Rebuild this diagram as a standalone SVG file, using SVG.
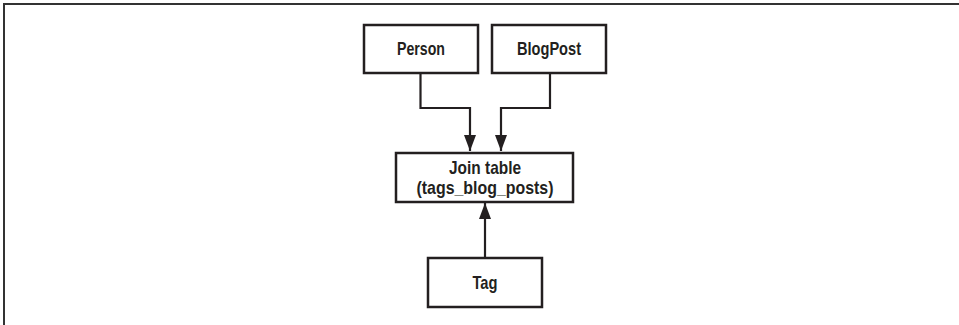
<svg xmlns="http://www.w3.org/2000/svg" width="959" height="325" viewBox="0 0 959 325">
<defs>
<style>
.box{fill:#fff;stroke:#231f20;stroke-width:2.5}
.lbl{font-family:"Liberation Sans",Arial,sans-serif;font-weight:bold;font-size:19px;fill:#231f20;text-anchor:middle}
.con{fill:none;stroke:#231f20;stroke-width:2.2}
.frame{fill:none;stroke:#333;stroke-width:2}
</style>
<marker id="ah" markerWidth="16" markerHeight="12" refX="16" refY="6" orient="auto" markerUnits="userSpaceOnUse" viewBox="0 0 16 12">
<path d="M0,0 L16,6 L0,12 Z" fill="#231f20"/>
</marker>
</defs>
<rect width="959" height="325" fill="#fff"/>
<path class="frame" d="M4,325 V4 H959"/>
<g id="connectors">
<path class="con" d="M420.5,73 V108 H470 V151" marker-end="url(#ah)"/>
<path class="con" d="M550,73 V108 H501 V151" marker-end="url(#ah)"/>
<path class="con" d="M485,258 V203" marker-end="url(#ah)"/>
</g>
<g id="person">
<rect class="box" x="364" y="25" width="114" height="48"/>
<text class="lbl" x="421" y="55" textLength="48" lengthAdjust="spacingAndGlyphs">Person</text>
</g>
<g id="blogpost">
<rect class="box" x="492" y="25" width="114" height="48"/>
<text class="lbl" x="549" y="55" textLength="64" lengthAdjust="spacingAndGlyphs">BlogPost</text>
</g>
<g id="jointable">
<rect class="box" x="396" y="153" width="177" height="49"/>
<text class="lbl" x="485" y="174" textLength="72" lengthAdjust="spacingAndGlyphs">Join table</text>
<text class="lbl" x="485" y="194" textLength="137" lengthAdjust="spacingAndGlyphs">(tags_blog_posts)</text>
</g>
<g id="tag">
<rect class="box" x="428" y="258" width="114" height="49"/>
<text class="lbl" x="485" y="289" textLength="25" lengthAdjust="spacingAndGlyphs">Tag</text>
</g>
</svg>
